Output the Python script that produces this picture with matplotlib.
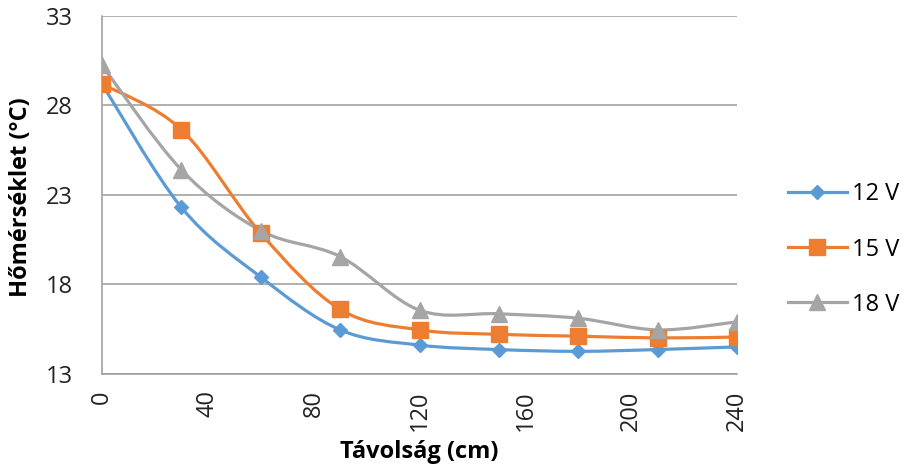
import numpy as np
import matplotlib
matplotlib.use("Agg")
import matplotlib.pyplot as plt
from matplotlib.path import Path
from matplotlib.patches import PathPatch
from matplotlib.lines import Line2D

plt.rcParams['font.family'] = ['Open Sans', 'DejaVu Sans']

distance = [0, 30, 60, 90, 120, 150, 180, 210, 240]
temp_12v = [29.2, 22.3, 18.4, 15.45, 14.6, 14.35, 14.25, 14.35, 14.5]
temp_15v = [29.2, 26.65, 20.85, 16.6, 15.45, 15.2, 15.1, 15.0, 15.05]
temp_18v = [30.25, 24.4, 21.0, 19.55, 16.55, 16.35, 16.1, 15.45, 15.9]
series_labels = ["12 V", "15 V", "18 V"]
x_ticks = [0, 40, 80, 120, 160, 200, 240]
y_ticks = [13, 18, 23, 28, 33]

colors = ["#5B9BD5", "#ED7D31", "#A5A5A5"]
markers = ["D", "s", "^"]
msizes = [7.5, 11.5, 11]
FS = 17


def smooth_path(xs, ys):
    """Cubic Bezier path through the points (Catmull-Rom style tangents)."""
    pts = np.column_stack([xs, ys]).astype(float)
    n = len(pts)
    verts = [pts[0]]
    codes = [Path.MOVETO]
    for i in range(n - 1):
        p0 = pts[i - 1] if i > 0 else pts[i]
        p1 = pts[i]
        p2 = pts[i + 1]
        p3 = pts[i + 2] if i + 2 < n else pts[i + 1]
        c1 = p1 + (p2 - p0) / 6.0
        c2 = p2 - (p3 - p1) / 6.0
        verts += [c1, c2, p2]
        codes += [Path.CURVE4] * 3
    return Path(verts, codes)


fig = plt.figure(figsize=(9.05, 4.69), dpi=100)
ax = fig.add_axes([0.1127, 0.2032, 0.7017, 0.7627])

for ys, c, m, ms, lab in zip([temp_12v, temp_15v, temp_18v], colors, markers,
                             msizes, series_labels):
    patch = PathPatch(smooth_path(distance, ys), facecolor="none",
                      edgecolor=c, lw=2.3, zorder=3, capstyle="round",
                      joinstyle="round")
    ax.add_patch(patch)
    ax.plot(distance, ys, linestyle="none", marker=m, markersize=ms,
            color=c, zorder=4)

ax.set_xlim(0, 240)
ax.set_ylim(13, 33)
ax.set_xticks(x_ticks)
ax.set_xticklabels([str(t) for t in x_ticks], rotation=90)
ax.set_yticks(y_ticks)
ax.grid(axis="y", color="#9A9A9A", lw=1.1, zorder=0)
ax.set_axisbelow(True)
for s in ["top", "right"]:
    ax.spines[s].set_visible(False)
for s in ["left", "bottom"]:
    ax.spines[s].set_color("#9A9A9A")
    ax.spines[s].set_linewidth(1.1)
ax.tick_params(axis="both", length=0, labelsize=FS, colors="#222222")
ax.tick_params(axis="x", pad=12)
ax.tick_params(axis="y", pad=21)

ax.set_xlabel("Távolság (cm)", fontsize=FS, fontweight="bold")
ax.xaxis.set_label_coords(0.5, -0.185)
ax.set_ylabel("Hőmérséklet (°C)", fontsize=FS, fontweight="bold")
ax.yaxis.set_label_coords(-0.108, 0.495)

handles = [Line2D([0], [0], color=c, lw=2.3, marker=m, markersize=ms)
           for c, m, ms in zip(colors, markers, msizes)]
fig.legend(handles, series_labels, loc="center left",
           bbox_to_anchor=(0.8707, 0.468), frameon=False, fontsize=FS,
           handlelength=2.5, handletextpad=0.2, labelspacing=1.32,
           borderpad=0, borderaxespad=0)

fig.savefig("out.png", dpi=100)
